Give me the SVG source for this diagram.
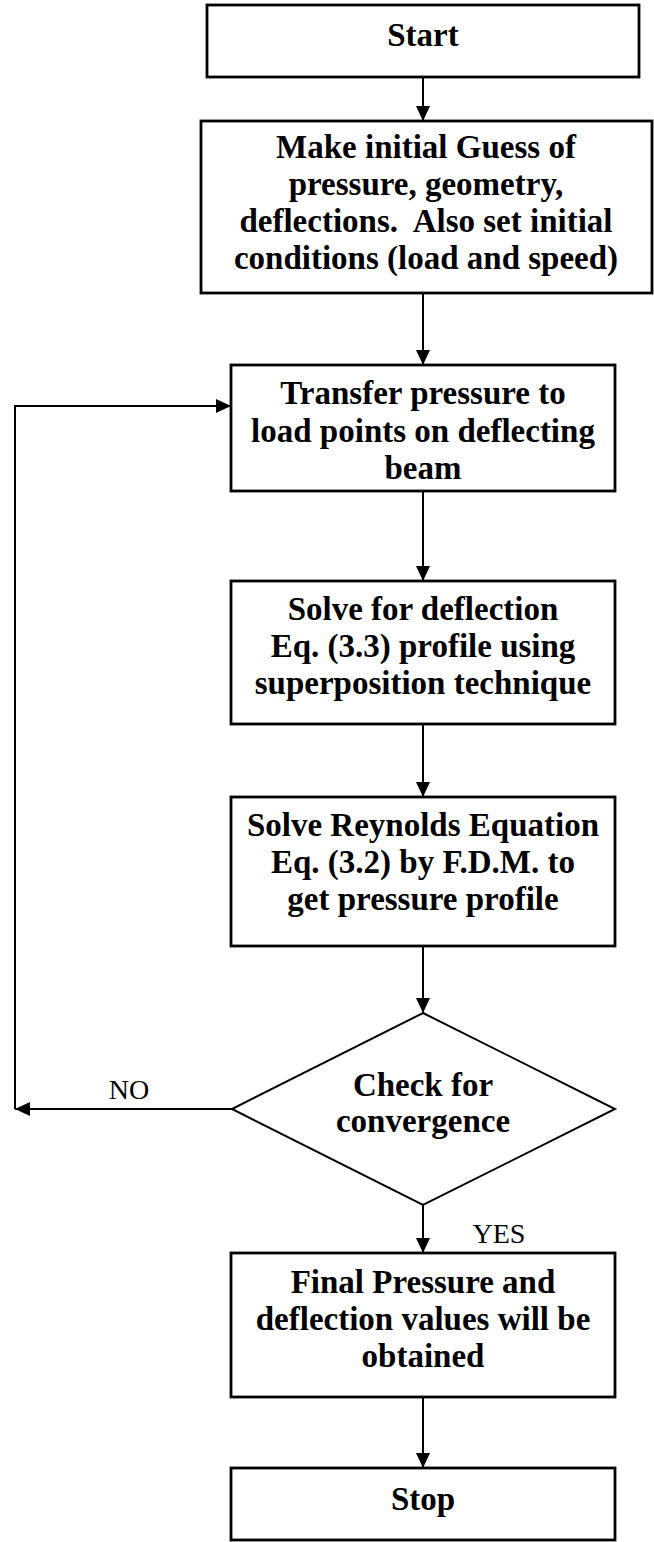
<svg xmlns="http://www.w3.org/2000/svg" width="654" height="1542" viewBox="0 0 654 1542">
<style>
.box{fill:#fff;stroke:#000;stroke-width:2.8}
.t{font-family:"Liberation Serif","Times New Roman",serif;font-weight:bold;font-size:33px;text-anchor:middle;fill:#000}
.l{font-family:"Liberation Serif","Times New Roman",serif;font-size:28px;text-anchor:middle;fill:#000}
.c{fill:none;stroke:#000;stroke-width:2}
</style>
<defs>
<marker id="ah" viewBox="0 0 10 10" refX="10" refY="5" markerWidth="15" markerHeight="14" markerUnits="userSpaceOnUse" orient="auto" preserveAspectRatio="none">
<path d="M0,0 L10,5 L0,10 z" fill="#000"/>
</marker>
</defs>
<rect width="654" height="1542" fill="#fff"/>
<g id="connectors">
<line class="c" x1="423" y1="77" x2="423" y2="121" marker-end="url(#ah)"/>
<line class="c" x1="423" y1="293" x2="423" y2="365" marker-end="url(#ah)"/>
<line class="c" x1="423" y1="491" x2="423" y2="581" marker-end="url(#ah)"/>
<line class="c" x1="423" y1="724" x2="423" y2="797" marker-end="url(#ah)"/>
<line class="c" x1="423" y1="946" x2="423" y2="1013" marker-end="url(#ah)"/>
<line class="c" x1="232" y1="1109" x2="15" y2="1109" marker-end="url(#ah)"/>
<polyline class="c" points="15,1109 15,406 231,406" marker-end="url(#ah)"/>
<line class="c" x1="423" y1="1205" x2="423" y2="1253" marker-end="url(#ah)"/>
<line class="c" x1="423" y1="1397" x2="423" y2="1468" marker-end="url(#ah)"/>
<text class="l" x="129" y="1099">NO</text>
<text class="l" x="499" y="1243">YES</text>
</g>
<g id="start">
<rect class="box" x="207" y="5" width="432" height="72"/>
<text class="t" x="423" y="46">Start</text>
</g>
<g id="guess">
<rect class="box" x="201" y="121" width="451" height="172"/>
<text class="t" x="426" y="158">Make initial Guess of</text>
<text class="t" x="426" y="195">pressure, geometry,</text>
<text class="t" x="426" y="232" xml:space="preserve">deflections.  Also set initial</text>
<text class="t" x="426" y="269">conditions (load and speed)</text>
</g>
<g id="transfer">
<rect class="box" x="231" y="365" width="384" height="126"/>
<text class="t" x="423" y="404">Transfer pressure to</text>
<text class="t" x="423" y="442">load points on deflecting</text>
<text class="t" x="423" y="479">beam</text>
</g>
<g id="deflection">
<rect class="box" x="231" y="581" width="384" height="143"/>
<text class="t" x="423" y="620">Solve for deflection</text>
<text class="t" x="423" y="657">Eq. (3.3) profile using</text>
<text class="t" x="423" y="694">superposition technique</text>
</g>
<g id="reynolds">
<rect class="box" x="231" y="797" width="384" height="149"/>
<text class="t" x="423" y="836">Solve Reynolds Equation</text>
<text class="t" x="423" y="873">Eq. (3.2) by F.D.M. to</text>
<text class="t" x="423" y="910">get pressure profile</text>
</g>
<g id="check">
<polygon points="423,1013 615,1109 423,1205 232,1109" fill="#fff" stroke="#000" stroke-width="2"/>
<text class="t" x="423" y="1096">Check for</text>
<text class="t" x="423" y="1132">convergence</text>
</g>
<g id="final">
<rect class="box" x="231" y="1253" width="384" height="144"/>
<text class="t" x="423" y="1293">Final Pressure and</text>
<text class="t" x="423" y="1330">deflection values will be</text>
<text class="t" x="423" y="1367">obtained</text>
</g>
<g id="stop">
<rect class="box" x="231" y="1468" width="384" height="72"/>
<text class="t" x="423" y="1510">Stop</text>
</g>
</svg>
